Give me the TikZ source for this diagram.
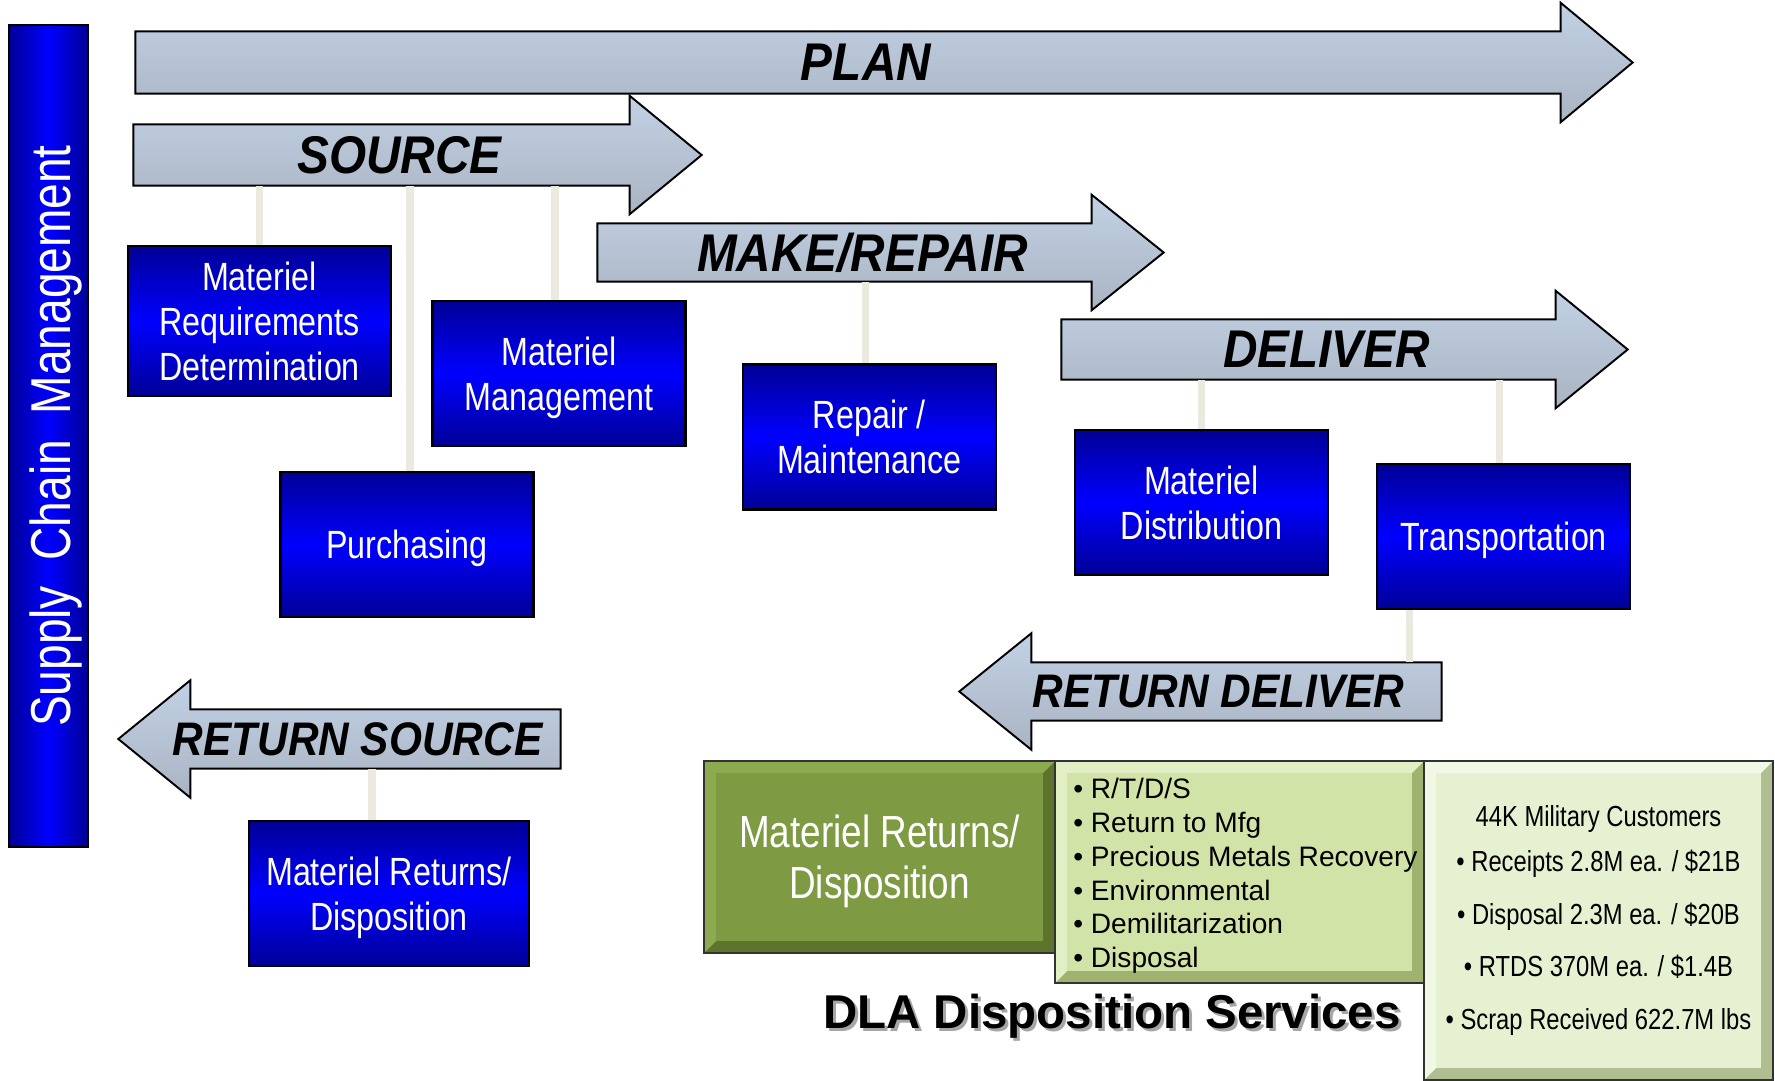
\documentclass[tikz,border=0pt]{standalone}
\usepackage{graphicx}
\usepackage{fontspec}
\setmainfont{Liberation Sans}
\newfontfamily\narrowfont[FakeStretch=0.82]{Liberation Sans}
\newfontfamily\flowfont[FakeStretch=0.9]{Liberation Sans}
\usetikzlibrary{backgrounds}
\definecolor{arrowtop}{RGB}{193,209,229}
\definecolor{arrowbot}{RGB}{170,180,194}
\definecolor{linkgray}{RGB}{236,233,222}
\definecolor{navy}{RGB}{0,0,150}
\definecolor{brightblue}{RGB}{0,0,255}
\definecolor{oliveM}{RGB}{126,155,67}
\definecolor{oliveL}{RGB}{140,170,80}
\definecolor{oliveD}{RGB}{92,116,44}
\definecolor{limeM}{RGB}{210,227,168}
\definecolor{limeL}{RGB}{226,238,196}
\definecolor{limeD}{RGB}{160,178,112}
\definecolor{paleM}{RGB}{229,241,208}
\definecolor{paleL}{RGB}{241,248,229}
\definecolor{paleD}{RGB}{176,190,146}

\begin{document}
\begin{tikzpicture}[x=0.1mm, y=-0.1mm,
    flow/.style = {inner sep=0, font=\flowfont\bfseries\itshape\fontsize{15.1}{18}\selectfont},
    backflow/.style = {flow, font=\flowfont\bfseries\itshape\fontsize{13.4}{16}\selectfont},
    arrowfill/.style = {draw=black, line width=0.55pt, top color=arrowtop, bottom color=arrowbot},
    main/.style = {draw=black, line width=0.7pt, top color=navy, bottom color=navy, middle color=brightblue,
        text=white, align=center, inner sep=0, text depth=0pt, minimum width=25.3mm, minimum height=14.5mm,
        font=\narrowfont\fontsize{11.2}{12.8}\selectfont},
    link/.style = {draw=linkgray, line width=2pt},
    bevel/.style n args = {3}{fill=#3, draw=black!80, line width=0.8pt, path picture={
        \fill[#2] (path picture bounding box.north west) -- (path picture bounding box.north east)
            -- ([shift={(-1.2mm,-1.2mm)}]path picture bounding box.north east)
            -- ([shift={(1.2mm,-1.2mm)}]path picture bounding box.north west)
            -- ([shift={(1.2mm,1.2mm)}]path picture bounding box.south west)
            -- (path picture bounding box.south west) -- cycle;
        \fill[#1] ([shift={(1.2mm,-1.2mm)}]path picture bounding box.north west)
            rectangle ([shift={(-1.2mm,1.2mm)}]path picture bounding box.south east);}}]
    \useasboundingbox (0,0) rectangle (1775,1081);

    \node[draw=black, line width=0.7pt, left color=navy, right color=navy, middle color=brightblue,
        minimum width=7.9mm, minimum height=82.2mm, inner sep=0, text=white,
        font=\narrowfont\fontsize{16}{18}\selectfont] (scm) at (48.5,436)
        {\hspace*{1.4mm}\rotatebox{90}{Supply\ \ Chain\ \ Management}};

    \node[flow, minimum width=146mm, minimum height=6.1mm] (plan) at (866,62.5) {PLAN};
    \node[flow, minimum width=53.1mm, minimum height=6mm] (source) at (399.5,155) {SOURCE};
    \node[flow, minimum width=52.9mm, minimum height=5.7mm] (make) at (862.5,252.5) {MAKE/REPAIR};
    \node[flow, minimum width=52.9mm, minimum height=5.9mm] (deliver) at (1326.5,349.5) {DELIVER};
    \node[backflow, minimum width=44.5mm, minimum height=5.7mm] (rdeliver) at (1218.5,691.5) {RETURN DELIVER};
    \node[backflow, minimum width=40.5mm, minimum height=5.8mm] (rsource) at (357.5,739) {RETURN SOURCE};

    \begin{scope}[on background layer]
        \foreach \n in {plan,source,make,deliver}
            \path[arrowfill] (\n.north west) -- ([shift={(-3.6mm,0)}]\n.north east)
                -- ([shift={(-3.6mm,2.85mm)}]\n.north east) -- ([shift={(3.6mm,0)}]\n.east)
                -- ([shift={(-3.6mm,-2.85mm)}]\n.south east) -- ([shift={(-3.6mm,0)}]\n.south east)
                -- (\n.south west) -- cycle;
        \foreach \n in {rdeliver,rsource}
            \path[arrowfill] (\n.north east) -- ([shift={(3.6mm,0)}]\n.north west)
                -- ([shift={(3.6mm,2.9mm)}]\n.north west) -- ([shift={(-3.6mm,0)}]\n.west)
                -- ([shift={(3.6mm,-2.9mm)}]\n.south west) -- ([shift={(3.6mm,0)}]\n.south west)
                -- (\n.south east) -- cycle;
    \end{scope}

    \node[main, minimum width=26.3mm, minimum height=15mm] (mrd) at (259.5,321) {Materiel\\Requirements\\Determination};
    \node[main] (mm) at (559,373.5) {Materiel\\Management};
    \node[main] (purch) at (407,544.5) {Purchasing};
    \node[main] (repair) at (869.5,437) {Repair /\\Maintenance};
    \node[main] (mdist) at (1201.5,502.5) {Materiel\\Distribution};
    \node[main] (transport) at (1503.5,536.5) {Transportation};
    \node[main, minimum width=28mm] (rdisp) at (389,893.5) {Materiel Returns/\\Disposition};

    \path[link]
        (mrd.north) edge (mrd.north |- source.south)
        ([xshift=0.3mm]purch.north) edge ([xshift=0.3mm]purch.north |- source.south)
        ([xshift=-0.4mm]mm.north) edge ([xshift=-0.4mm]mm.north |- source.south)
        ([xshift=-0.4mm]repair.north) edge ([xshift=-0.4mm]repair.north |- make.south)
        (mdist.north) edge (mdist.north |- deliver.south)
        ([xshift=-0.4mm]transport.north) edge ([xshift=-0.4mm]transport.north |- deliver.south)
        ([xshift=-9.4mm]transport.south) edge ([xshift=-9.4mm]transport.south |- rdeliver.north)
        ([xshift=-1.7mm]rdisp.north) edge ([xshift=-1.7mm]rdisp.north |- rsource.south);

    \node[bevel={limeM}{limeL}{limeD}, minimum width=36.9mm, minimum height=22.2mm] (gmid) at (1239.5,872) {};
    \node[anchor=west, align=left, inner sep=0, font=\fontsize{8}{9.6}\selectfont] (gmidlist)
        at ([shift={(1.9mm,-0.4mm)}]gmid.west)
        {• R/T/D/S\\• Return to Mfg\\• Precious Metals Recovery\\• Environmental\\• Demilitarization\\• Disposal};
    \node[bevel={oliveM}{oliveL}{oliveD}, minimum width=35.1mm, minimum height=19.2mm, text=white, align=center,
        text depth=0pt, font=\narrowfont\fontsize{12.8}{14.5}\selectfont] (gleft) at (879.5,857) {Materiel Returns/\\Disposition};
    \node[bevel={paleM}{paleL}{paleD}, minimum width=34.9mm, minimum height=31.9mm, align=center,
        font=\narrowfont\fontsize{8.25}{15}\selectfont] (gright) at (1598.5,920.5)
        {44K Military Customers\\[-0.8mm]• Receipts 2.8M ea. / \$21B\\• Disposal 2.3M ea. / \$20B\\• RTDS 370M ea. / \$1.4B\\• Scrap Received 622.7M lbs};

    \node[text=black!35, font=\bfseries\fontsize{13.5}{16}\selectfont] (dlashade) at (1115,1019) {DLA Disposition Services};
    \node[font=\bfseries\fontsize{13.5}{16}\selectfont] (dla) at (1112,1016) {DLA Disposition Services};
\end{tikzpicture}
\end{document}
